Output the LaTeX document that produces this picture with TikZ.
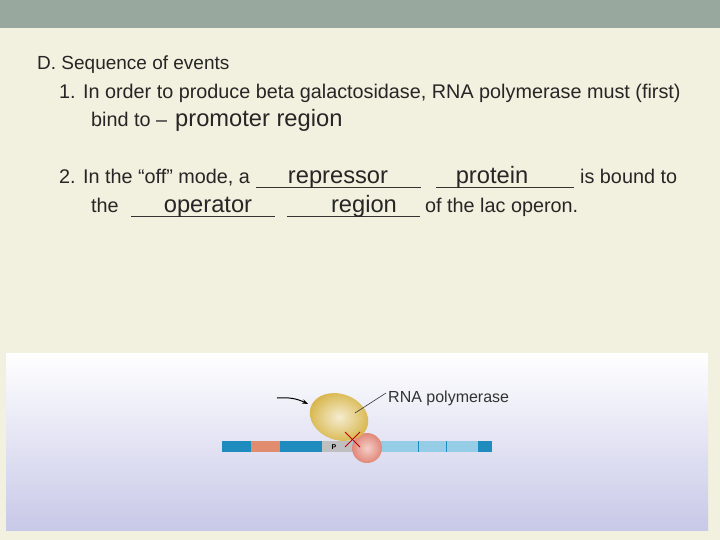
\documentclass[tikz,border=0pt]{standalone}
\usepackage{fontspec}
\setmainfont{Liberation Sans}
\usetikzlibrary{arrows.meta}
\definecolor{band}{RGB}{152,168,158}
\definecolor{cream}{RGB}{242,240,222}
\definecolor{lav}{RGB}{200,200,232}
\definecolor{dblue}{RGB}{30,140,190}
\definecolor{lblue}{RGB}{150,205,230}
\definecolor{salmon}{RGB}{225,140,110}
\definecolor{gold}{RGB}{215,180,70}
\definecolor{pinkc}{RGB}{225,135,120}
\begin{document}
\begin{tikzpicture}[x=1pt,y=-1pt,
  txt/.style={anchor=base west,inner sep=0,font=\fontsize{19.8}{22}\selectfont,text=black!85},
  big/.style={anchor=base,inner sep=0,font=\fontsize{23.7}{26}\selectfont,text=black!85},
  uline/.style={line width=0.9pt,black!80}]
\useasboundingbox (0,0) rectangle (720,540);
\fill[cream] (0,0) rectangle (720,540);
\fill[band] (0,0) rectangle (720,28);
\node[txt,font=\fontsize{19}{22}\selectfont] (t0) at (37,70) {D. Sequence of events};
\node[txt] (t1) at (59,99) {1. In order to produce beta galactosidase, RNA polymerase must (first)};
\node[txt] (t2) at (91,127) {bind to –};
\node[big,anchor=base west] (t2b) at (175,127) {promoter region};
\node[txt] (t3) at (59,184) {2. In the “off” mode, a};
\draw[uline] (256,187) coordinate (u1a) -- (421,187) coordinate (u1b);
\draw[uline] (436,187) coordinate (u2a) -- (574,187) coordinate (u2b);
\node[big] (w1) at (338,184) {repressor};
\node[big] (w2) at (492,184) {protein};
\node[txt] (t4) at (580,184) {is bound to};
\node[txt] (t5) at (91,213) {the};
\draw[uline] (131,216) coordinate (u3a) -- (275,216) coordinate (u3b);
\draw[uline] (287,216) coordinate (u4a) -- (420,216) coordinate (u4b);
\node[big] (w3) at (208,213) {operator};
\node[big] (w4) at (364,213) {region};
\node[txt] (t6) at (425,213) {of the lac operon.};
% image
\shade[top color=white,bottom color=lav] (6,353) rectangle (708,530);
\fill[dblue] (222,441) rectangle (492,452);
\fill[salmon] (251,441) rectangle (280,452);
\fill[black!25] (322,441) rectangle (352,452);
\fill[lblue] (352,441) rectangle (478,452);
\foreach \x in {418,446} \draw[dblue,line width=1pt] (\x,441) -- (\x,452);
\node[inner sep=0,font=\bfseries\scriptsize] (p) at (334,447) {P};
\shade[inner color=pinkc!40,outer color=pinkc] (367,448) coordinate (pc) circle (15);
\shade[inner color=gold!25,outer color=gold,rotate around={-20:(339,417)}] (339,417) ellipse (30 and 23);
\draw[red!75!black,line width=0.8pt] (345,432) -- (360,447) (345,447) -- (360,432);
\draw[-{Stealth[length=6pt]},line width=1pt] (277,398) to[bend left=15] (308,404);
\node[anchor=base west,inner sep=0,font=\fontsize{16}{17}\selectfont,text=black!80] (lab) at (388,402) {RNA polymerase};
\draw[black!80,line width=0.6pt] (355,413) -- (386,393);
\end{tikzpicture}
\end{document}
